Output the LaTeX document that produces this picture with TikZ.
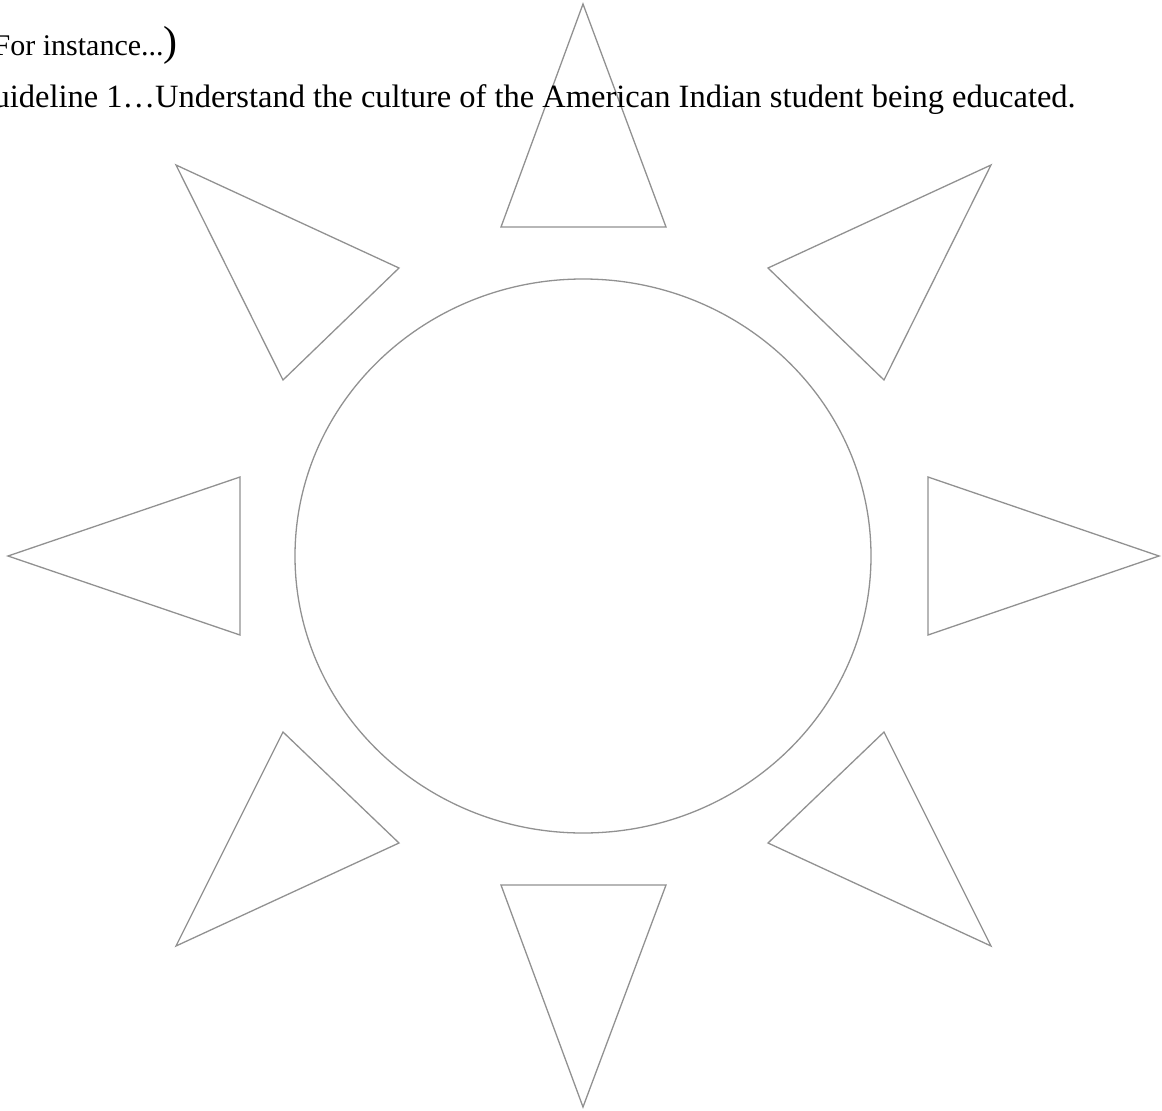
\documentclass[tikz,border=0pt]{standalone}
\usepackage{fontspec}
\setmainfont{Liberation Serif}
\begin{document}
\begin{tikzpicture}[x=1pt,y=-1pt,
  ray/.style={draw={rgb,255:red,145;green,145;blue,145}, line width=1.3pt, line join=miter},
  sun/.style={draw={rgb,255:red,145;green,145;blue,145}, line width=1.3pt},
  txt/.style={inner sep=0pt, text=black}]
\useasboundingbox (0,0) rectangle (1162,1111);
% sun body
\draw[sun] (583,556) ellipse [x radius=288, y radius=277];
% rays
\draw[ray] (583,4) -- (666,227) -- (501,227) -- cycle;
\draw[ray] (583,1107) -- (666,885) -- (501,885) -- cycle;
\draw[ray] (8,556) -- (240,477) -- (240,635) -- cycle;
\draw[ray] (1159,556) -- (928,477) -- (928,635) -- cycle;
\draw[ray] (176,165) -- (399,268) -- (283,380) -- cycle;
\draw[ray] (991,165) -- (768,268) -- (884,380) -- cycle;
\draw[ray] (176,946) -- (399,843) -- (283,732) -- cycle;
\draw[ray] (991,946) -- (768,843) -- (884,732) -- cycle;
% text
\node[txt, anchor=base west, font=\fontsize{30}{36}\selectfont] (l2) at (-6.5,55) {For instance...{\fontsize{42}{42}\selectfont)}};
\node[txt, anchor=base west, font=\fontsize{32.5}{39}\selectfont] (l3) at (155,107) {\llap{Guideline 1…}Understand the culture of the American Indian student being educated.};
\end{tikzpicture}
\end{document}
